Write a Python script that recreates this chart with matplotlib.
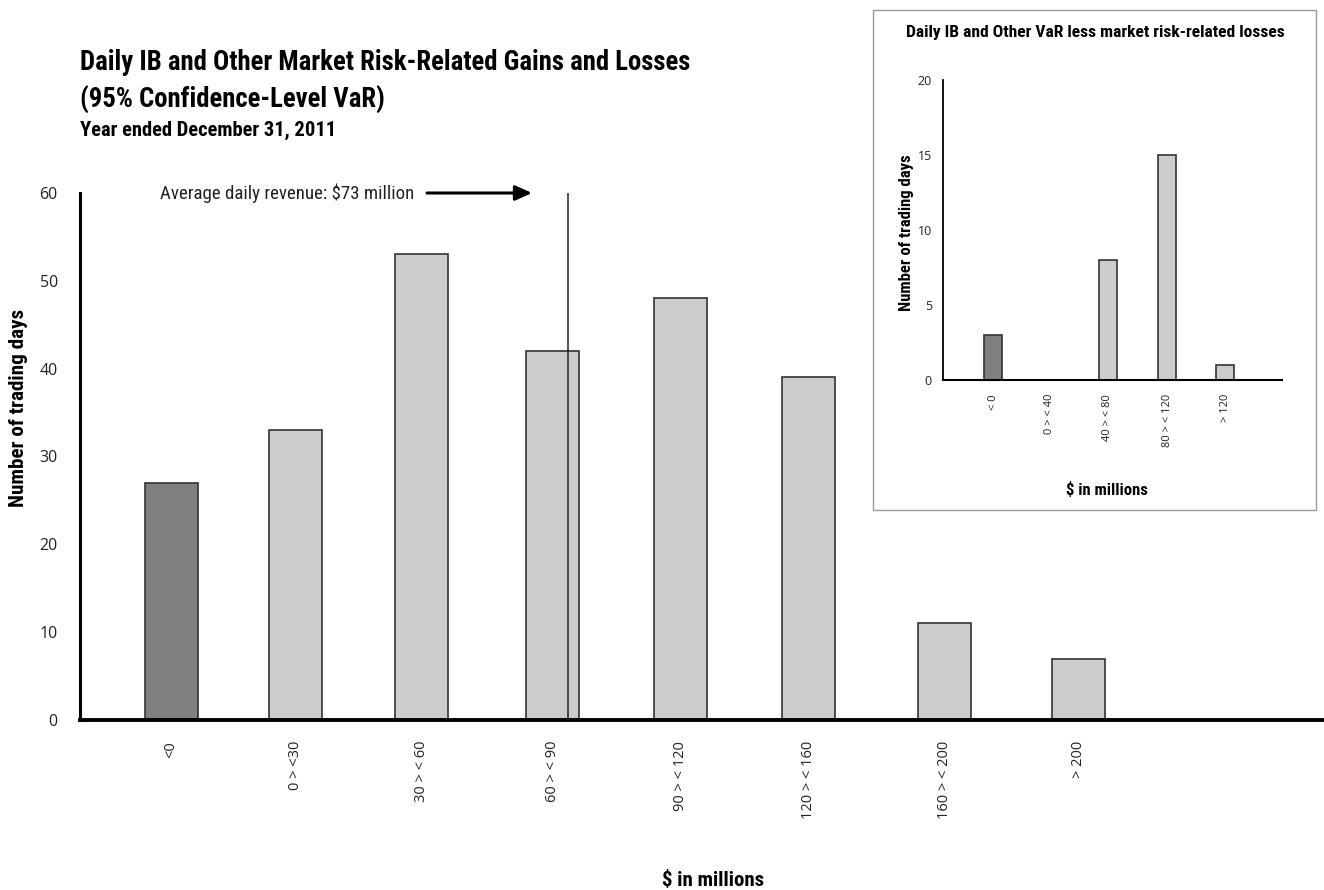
import matplotlib
matplotlib.use("Agg")
import matplotlib.pyplot as plt
from matplotlib.patches import Rectangle
from matplotlib import font_manager as fm

# ---- data ----
main_labels = ["<0", "0 > <30", "30 > < 60", "60 > < 90", "90 > < 120",
               "120 > < 160", "160 > < 200", "> 200"]
main_values = [27, 33, 53, 42, 48, 39, 11, 7]
main_pos = [0, 0.97, 1.96, 2.98, 3.98, 4.98, 6.04, 7.09]
avg_line_pos = 3.10

inset_labels = ["< 0", "0 > < 40", "40 > < 80", "80 > < 120", "> 120"]
inset_values = [3, 0, 8, 15, 1]
inset_pos = [0, 0.97, 1.98, 3.0, 4.0]

DARK = "#808080"
LIGHT = "#cccccc"
EDGE = "#333333"

plt.rcParams['font.family'] = ['Open Sans', 'DejaVu Sans']

# find a narrow/condensed font
names = {f.name for f in fm.fontManager.ttflist}
NARROW = None
NSTRETCH = 'normal'
for cand in ['Liberation Sans Narrow', 'Roboto Condensed', 'Open Sans Condensed',
             'DejaVu Sans Condensed', 'Arial Narrow']:
    if cand in names:
        NARROW = cand
        break
if NARROW is None:
    cond = [f for f in fm.fontManager.ttflist if 'ondensed' in f.fname or 'arrow' in f.fname]
    if cond:
        NARROW = cond[0].name
        NSTRETCH = 'condensed'
    else:
        NARROW = 'DejaVu Sans'
        NSTRETCH = 'condensed'

fig = plt.figure(figsize=(13.24, 8.9), dpi=100)
W, H = 1324, 890

def ax_rect(l, r, b, t):
    return [l / W, 1 - b / H, (r - l) / W, (b - t) / H]

def nf(size, weight='normal'):
    return dict(family=[NARROW, 'DejaVu Sans'], fontsize=size, fontweight=weight, fontstretch=NSTRETCH)

# ---- inset box (behind everything) ----
fig.patches.append(Rectangle((873 / W, 1 - 510 / H), (1316 - 873) / W, 500 / H,
                             transform=fig.transFigure, fill=False,
                             edgecolor='#999999', linewidth=1.0, zorder=-5))

# ---- main axes ----
ax = fig.add_axes(ax_rect(80, 1324, 720, 193))
ax.patch.set_visible(False)
colors = [DARK] + [LIGHT] * (len(main_values) - 1)
ax.bar(main_pos, main_values, width=0.414, color=colors, edgecolor=EDGE, linewidth=1.2, zorder=2)
ax.set_xlim(-0.711, 9.008)
ax.set_ylim(0, 60)
ax.set_yticks(range(0, 61, 10))
ax.set_xticks(main_pos)
ax.set_xticklabels(main_labels, rotation=90, fontsize=10.5, va='top', ha='center')
ax.tick_params(axis='both', length=0, colors='#222222')
ax.tick_params(axis='y', pad=16, labelsize=11.5)
ax.tick_params(axis='x', pad=15)
for s in ['top', 'right']:
    ax.spines[s].set_visible(False)
ax.spines['left'].set_linewidth(2.2)
ax.spines['bottom'].set_linewidth(2.8)
ax.set_ylabel("Number of trading days", **nf(15.2, 'bold'))
ax.yaxis.set_label_coords(-(80 - 19) / 1244, (720 - 408) / 527)
ax.yaxis.label.set_va('center')
ax.set_xlabel("$ in millions", **nf(15, 'bold'))
ax.xaxis.set_label_coords((713 - 80) / 1244, -(881 - 720) / 527)
ax.xaxis.label.set_va('center')

ax.axvline(avg_line_pos, ymin=0, ymax=1, color='#222222', linewidth=1.1, zorder=3)
ax.text((160 - 80) / 1244, 1.0, "Average daily revenue: $73 million", transform=ax.transAxes,
        ha='left', va='center', color='#222222', **nf(13.6))
ax.annotate("", xy=((532 - 80) / 1244, 1.0), xytext=((427 - 80) / 1244, 1.0),
            xycoords='axes fraction', textcoords='axes fraction',
            arrowprops=dict(arrowstyle='-|>,head_length=1.0,head_width=0.45',
                            color='black', lw=2.2, shrinkA=0, shrinkB=0),
            annotation_clip=False)

# ---- titles ----
fig.text(80 / W, 1 - 62 / H, "Daily IB and Other Market Risk-Related Gains and Losses",
         ha='left', va='center', **nf(19.3, 'bold'))
fig.text(80 / W, 1 - 100 / H, "(95% Confidence-Level VaR)",
         ha='left', va='center', **nf(19.3, 'bold'))
fig.text(80 / W, 1 - 130 / H, "Year ended December 31, 2011",
         ha='left', va='center', **nf(14.8, 'bold'))

# ---- inset axes ----
axi = fig.add_axes(ax_rect(943, 1282, 380, 80))
axi.patch.set_visible(False)
icolors = [DARK] + [LIGHT] * (len(inset_values) - 1)
axi.bar(inset_pos, inset_values, width=0.31, color=icolors, edgecolor=EDGE, linewidth=1.2, zorder=2)
axi.set_xlim(-0.862, 4.98)
axi.set_ylim(0, 20)
axi.set_yticks(range(0, 21, 5))
axi.set_xticks(inset_pos)
axi.set_xticklabels(inset_labels, rotation=90, fontsize=8, va='top', ha='center')
axi.tick_params(axis='both', length=0, colors='#222222')
axi.tick_params(axis='y', pad=8, labelsize=9)
axi.tick_params(axis='x', pad=10)
for s in ['top', 'right']:
    axi.spines[s].set_visible(False)
axi.spines['left'].set_linewidth(1.3)
axi.spines['bottom'].set_linewidth(1.5)
axi.set_ylabel("Number of trading days", **nf(12, 'bold'))
axi.yaxis.set_label_coords(-(943 - 906) / 339, (380 - 233) / 300)
axi.yaxis.label.set_va('center')
axi.set_xlabel("$ in millions", **nf(12, 'bold'))
axi.xaxis.set_label_coords((1107 - 943) / 339, -(490 - 380) / 300)
axi.xaxis.label.set_va('center')
fig.text(1095 / W, 1 - 33 / H, "Daily IB and Other VaR less market risk-related losses",
         ha='center', va='center', **nf(12.6, 'bold'))

fig.savefig("out.png", dpi=100)
